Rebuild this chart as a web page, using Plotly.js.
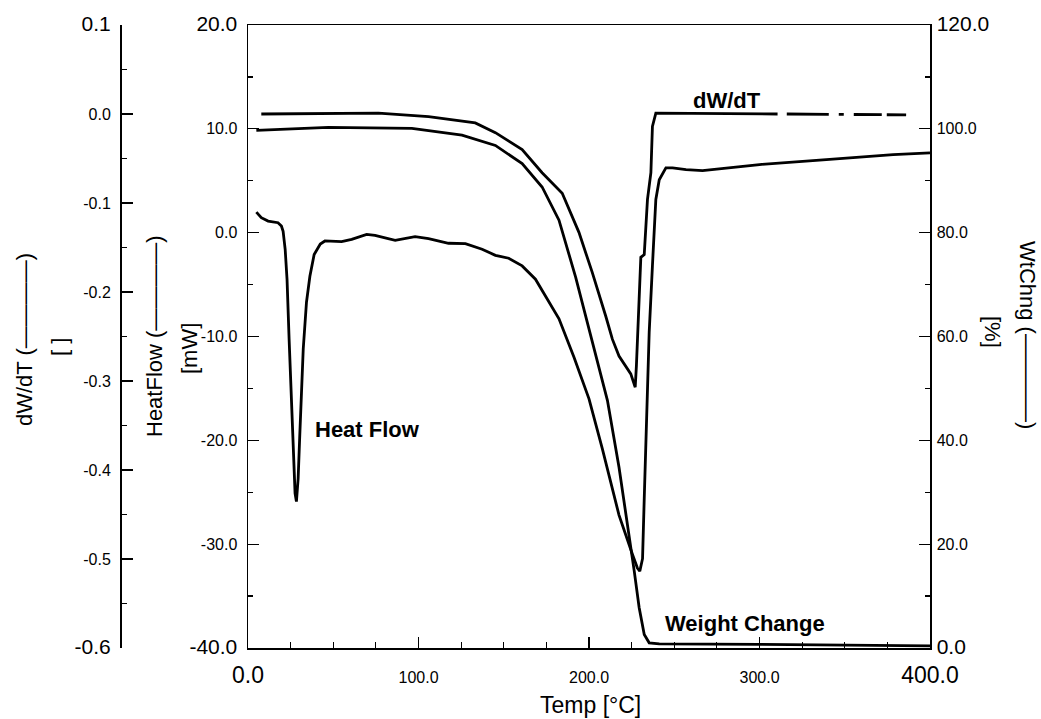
<!DOCTYPE html>
<html>
<head>
<meta charset="utf-8">
<script src="https://cdn.plot.ly/plotly-3.0.1.min.js"></script>
<style>
html,body{margin:0;padding:0;background:#fff;}
#chart{width:1041px;height:719px;}
</style>
</head>
<body>
<div id="chart"></div>
<script>
// ---------------- data ----------------
var tempHeatFlow = [4.9, 7.8, 11.8, 17.6, 19.6, 20.6, 21.8, 22.9, 24.1, 25.3, 26.5, 27.6, 28.4, 29.4, 30.3, 31.2, 32.4, 34.3, 36.3, 38.8, 42.4, 45.1, 54.9, 60.8, 69.6, 74.5, 86.3, 98.0, 105.9, 117.6, 127.5, 137.3, 145.1, 152.9, 160.8, 168.6, 176.5, 182.4, 191.2, 200.0, 207.8, 217.6, 225.5, 228.4, 229.8, 231.4, 232.4, 233.4, 234.3, 235.3, 237.2, 239.2, 241.2, 245.1, 249.0, 256.9, 266.6, 300.0, 339.2, 378.4, 400.0];
var heatFlow = [1.98, 1.44, 1.12, 0.96, 0.64, 0.13, -1.6, -4.5, -10.2, -16.0, -21.8, -25.1, -25.9, -23.7, -19.8, -16.0, -11.2, -6.7, -4.2, -2.1, -1.1, -0.80, -0.86, -0.64, -0.16, -0.26, -0.74, -0.38, -0.57, -1.02, -1.05, -1.6, -2.18, -2.46, -3.2, -4.48, -6.7, -8.3, -12.0, -16.0, -20.8, -27.2, -31.0, -32.3, -32.6, -31.4, -25.6, -19.2, -16.0, -9.6, -3.2, 3.2, 5.1, 6.24, 6.24, 6.08, 5.98, 6.56, 7.04, 7.52, 7.68];

var tempWeight = [4.9, 47.1, 96.1, 125.5, 145.1, 160.8, 172.5, 178.4, 182.4, 192.2, 202.0, 210.8, 217.6, 223.5, 225.5, 226.5, 229.4, 232.4, 235.3, 241.2, 300.0, 350.0, 400.0];
var weightChange = [99.7, 100.3, 100.1, 98.8, 96.8, 93.3, 88.8, 85.0, 82.4, 71.4, 59.2, 47.7, 34.8, 22.0, 17.4, 14.9, 7.8, 2.6, 1.0, 0.8, 0.7, 0.6, 0.4];

var tempDwdt = [7.8, 76.5, 105.9, 133.3, 145.1, 160.8, 172.5, 184.3, 194.1, 201.9, 209.8, 213.7, 217.6, 224.5, 227.1, 227.8, 229.4, 230.4, 232.4, 233.4, 234.3, 236.3, 237.2, 239.2, 310.6, 316.0, 386.0];
var dwdt = [0.000, 0.001, -0.003, -0.010, -0.021, -0.040, -0.066, -0.089, -0.133, -0.178, -0.227, -0.253, -0.272, -0.292, -0.307, -0.283, -0.208, -0.161, -0.158, -0.126, -0.096, -0.066, -0.014, 0.001, 0.000, 0.000, -0.001];

var xTicks = [0, 100, 200, 300, 400];
var xTickText = ['0.0', '100.0', '200.0', '300.0', '400.0'];
var hfTicks = [-40, -30, -20, -10, 0, 10, 20];
var hfTickText = ['-40.0', '-30.0', '-20.0', '-10.0', '0.0', '10.0', '20.0'];
var wtTicks = [0, 20, 40, 60, 80, 100, 120];
var wtTickText = ['0.0', '20.0', '40.0', '60.0', '80.0', '100.0', '120.0'];
var dwTicks = [-0.6, -0.5, -0.4, -0.3, -0.2, -0.1, 0.0, 0.1];
var dwTickText = ['-0.6', '-0.5', '-0.4', '-0.3', '-0.2', '-0.1', '0.0', '0.1'];

// ---------------- layout helpers ----------------
var W = 1041, H = 719;
var PL = 100, PR = 930, PT = 25, PB = 648;   // plotting rectangle in px
var mainLeft = 248, dwAxisX = 120;
function px2x(p){ return (p - PL) / (PR - PL); }
function px2y(p){ return (PB - p) / (PB - PT); }
var FONT = 'Liberation Sans, Arial, Helvetica, sans-serif';

function sized(texts, big, small){
  return texts.map(function(t, i){
    var s = (i === 0 || i === texts.length - 1) ? big : small;
    return '<span style="font-size:' + s + 'px">' + t + '</span>';
  });
}

var lineStyle = {color: '#000', width: 2.8};

var solidIdx = [], dashIdx = [];
tempDwdt.forEach(function(t, i){ if (t <= 310.6) solidIdx.push(i); if (t >= 316) dashIdx.push(i); });

var traces = [
  {x: tempHeatFlow, y: heatFlow, type: 'scatter', mode: 'lines', line: lineStyle, yaxis: 'y', name: 'Heat Flow'},
  {x: tempWeight, y: weightChange, type: 'scatter', mode: 'lines', line: lineStyle, yaxis: 'y2', name: 'Weight Change'},
  {x: solidIdx.map(function(i){return tempDwdt[i];}), y: solidIdx.map(function(i){return dwdt[i];}),
   type: 'scatter', mode: 'lines', line: lineStyle, yaxis: 'y3', name: 'dW/dT'},
  {x: dashIdx.map(function(i){return tempDwdt[i];}), y: dashIdx.map(function(i){return dwdt[i];}),
   type: 'scatter', mode: 'lines', line: {color: '#000', width: 2.8, dash: '42px,10px,5px,10px,28px,5px,22px,20px'}, yaxis: 'y3', name: 'dW/dT'}
];

var axisCommon = {
  showline: true, linecolor: '#000', linewidth: 1.5,
  ticks: 'inside', ticklen: 11, tickwidth: 1.3, tickcolor: '#000',
  showgrid: false, zeroline: false, tickmode: 'array',
  tickfont: {family: FONT, size: 16, color: '#000'},
  fixedrange: true
};
function ax(extra){ var o = {}; for (var k in axisCommon) o[k] = axisCommon[k]; for (var k2 in extra) o[k2] = extra[k2]; return o; }

var layout = {
  width: W, height: H,
  margin: {l: PL, r: W - PR, t: PT, b: H - PB, pad: 0},
  paper_bgcolor: '#fff', plot_bgcolor: 'rgba(0,0,0,0)',
  showlegend: false,
  font: {family: FONT, color: '#000'},
  xaxis: ax({
    domain: [px2x(mainLeft), 1], range: [0, 400], mirror: true,
    tickvals: xTicks, ticktext: sized(xTickText, 23, 16), ticklabelstandoff: 14,
    minor: {dtick: 25, tick0: 0, ticks: 'inside', ticklen: 6, tickwidth: 1.2, tickcolor: '#000'}
  }),
  yaxis: ax({
    domain: [0, 1], range: [-40, 20], anchor: 'x', side: 'left',
    tickvals: hfTicks, ticktext: sized(hfTickText, 21, 16), ticklabelstandoff: 6,
    minor: {dtick: 5, tick0: 0, ticks: 'inside', ticklen: 5, tickwidth: 1.2, tickcolor: '#000'}
  }),
  yaxis2: ax({
    overlaying: 'y', range: [0, 120], anchor: 'x', side: 'right',
    tickvals: wtTicks, ticktext: sized(wtTickText, 21, 16), ticklabelstandoff: 2,
    minor: {dtick: 10, tick0: 0, ticks: 'inside', ticklen: 5, tickwidth: 1.2, tickcolor: '#000'}
  }),
  yaxis3: ax({
    overlaying: 'y', range: [-0.6, 0.1], anchor: 'free', side: 'left', position: px2x(dwAxisX),
    tickvals: dwTicks, ticktext: sized(dwTickText, 21, 16), ticklabelstandoff: 6,
    minor: {dtick: 0.05, tick0: 0, ticks: 'inside', ticklen: 5, tickwidth: 1.2, tickcolor: '#000'}
  }),
  annotations: [
    {text: 'Temp [°C]', xref: 'paper', yref: 'paper', x: px2x(590), y: px2y(705), showarrow: false, xanchor: 'center', yanchor: 'middle', font: {family: FONT, size: 23, color: '#000'}},
    {text: 'dW/dT (————)', xref: 'paper', yref: 'paper', x: px2x(24), y: px2y(340), textangle: -90, showarrow: false, xanchor: 'center', yanchor: 'middle', font: {family: FONT, size: 22, color: '#000'}},
    {text: '[ ]', xref: 'paper', yref: 'paper', x: px2x(60), y: px2y(347), textangle: -90, showarrow: false, xanchor: 'center', yanchor: 'middle', font: {family: FONT, size: 22, color: '#000'}},
    {text: 'HeatFlow (————)', xref: 'paper', yref: 'paper', x: px2x(155), y: px2y(336), textangle: -90, showarrow: false, xanchor: 'center', yanchor: 'middle', font: {family: FONT, size: 22, color: '#000'}},
    {text: '[mW]', xref: 'paper', yref: 'paper', x: px2x(189), y: px2y(349), textangle: -90, showarrow: false, xanchor: 'center', yanchor: 'middle', font: {family: FONT, size: 22, color: '#000'}},
    {text: 'WtChng (————)', xref: 'paper', yref: 'paper', x: px2x(1028), y: px2y(335), textangle: 90, showarrow: false, xanchor: 'center', yanchor: 'middle', font: {family: FONT, size: 22, color: '#000'}},
    {text: '[%]', xref: 'paper', yref: 'paper', x: px2x(993), y: px2y(332), textangle: 90, showarrow: false, xanchor: 'center', yanchor: 'middle', font: {family: FONT, size: 22, color: '#000'}},
    {text: '<b>Heat Flow</b>', xref: 'paper', yref: 'paper', x: px2x(313), y: px2y(430), showarrow: false, xanchor: 'left', yanchor: 'middle', font: {family: FONT, size: 22, color: '#000'}},
    {text: '<b>dW/dT</b>', xref: 'paper', yref: 'paper', x: px2x(727), y: px2y(100), showarrow: false, xanchor: 'center', yanchor: 'middle', font: {family: FONT, size: 22, color: '#000'}},
    {text: '<b>Weight Change</b>', xref: 'paper', yref: 'paper', x: px2x(663), y: px2y(623), showarrow: false, xanchor: 'left', yanchor: 'middle', font: {family: FONT, size: 22, color: '#000'}}
  ]
};

Plotly.newPlot('chart', traces, layout, {staticPlot: true, displayModeBar: false});
</script>
</body>
</html>
